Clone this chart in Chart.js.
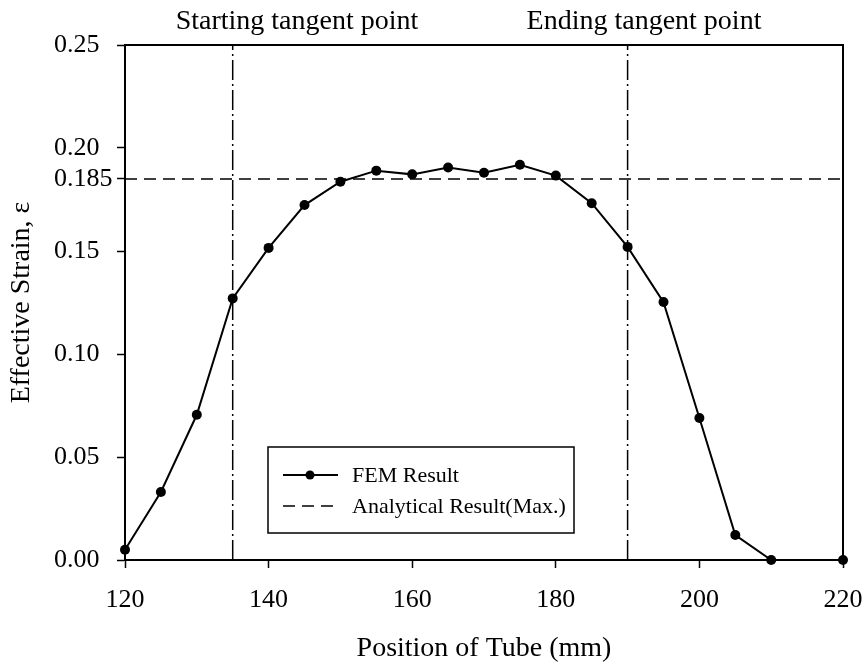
<!DOCTYPE html>
<html>
<head>
<meta charset="utf-8">
<script src="https://cdn.jsdelivr.net/npm/chart.js@4/dist/chart.umd.min.js"></script>
<style>
  body { margin: 0; background: #fff; }
</style>
</head>
<body>
<canvas id="strainChart" width="866" height="664"></canvas>
<script>
// FEM result, position of tube (mm) vs effective strain
var positions = [120, 125, 130, 135, 140, 145, 150, 155, 160, 165, 170, 175, 180, 185, 190, 195, 200, 205, 210, 220];
var strain = [0.005, 0.033, 0.0705, 0.127, 0.1515, 0.1723, 0.1836, 0.189, 0.1872, 0.1905, 0.188, 0.1919, 0.1866, 0.1732, 0.152, 0.1252, 0.0689, 0.0121, 0, 0];

var analyticalMax = 0.185;
var startTangent = 135;
var endTangent = 190;

var xTicks = [120, 140, 160, 180, 200, 220];
var yTicks = [0, 0.05, 0.10, 0.15, 0.20, 0.25];

var legendLabels = ['FEM Result', 'Analytical Result(Max.)'];
var xTitle = 'Position of Tube (mm)';
var yTitle = 'Effective Strain, \u03b5';
var topLabels = ['Starting tangent point', 'Ending tangent point'];

var FONT = '"Liberation Serif", "Times New Roman", serif';

var femData = [];
for (var i = 0; i < positions.length; i++) {
  femData.push({ x: positions[i], y: strain[i] });
}

// frame, titles, legend box
var extras = {
  id: 'extras',
  afterDraw: function (chart) {
    var ctx = chart.ctx;
    var a = chart.chartArea;
    ctx.save();
    ctx.strokeStyle = '#000';
    ctx.lineWidth = 2;
    ctx.strokeRect(a.left, a.top, a.right - a.left, a.bottom - a.top);

    ctx.fillStyle = '#000';
    ctx.font = '28px ' + FONT;
    ctx.textAlign = 'center';
    ctx.textBaseline = 'middle';
    ctx.fillText(topLabels[0], 297, 22);
    ctx.fillText(topLabels[1], 644, 22);
    ctx.fillText(xTitle, (a.left + a.right) / 2, 649);

    ctx.save();
    ctx.translate(22, (a.top + a.bottom) / 2);
    ctx.rotate(-Math.PI / 2);
    ctx.fillText(yTitle, 0, 0);
    ctx.restore();

    // legend
    var lx = 268, ly = 447, lw = 306, lh = 86;
    ctx.fillStyle = '#fff';
    ctx.fillRect(lx, ly, lw, lh);
    ctx.lineWidth = 1.5;
    ctx.strokeRect(lx, ly, lw, lh);

    ctx.strokeStyle = '#000';
    ctx.lineWidth = 2;
    ctx.beginPath();
    ctx.moveTo(283, 475);
    ctx.lineTo(338, 475);
    ctx.stroke();
    ctx.fillStyle = '#000';
    ctx.beginPath();
    ctx.arc(310, 475, 4.5, 0, Math.PI * 2);
    ctx.fill();

    ctx.lineWidth = 1.5;
    ctx.setLineDash([12, 7]);
    ctx.beginPath();
    ctx.moveTo(283, 506);
    ctx.lineTo(338, 506);
    ctx.stroke();
    ctx.setLineDash([]);

    ctx.font = '22px ' + FONT;
    ctx.textAlign = 'left';
    ctx.fillText(legendLabels[0], 352, 476);
    ctx.fillText(legendLabels[1], 352, 507);
    ctx.restore();
  }
};

var ctx = document.getElementById('strainChart');
var myChart = new Chart(ctx, {
  type: 'scatter',
  data: {
    datasets: [
      {
        label: legendLabels[1],
        data: [{ x: 120, y: analyticalMax }, { x: 220, y: analyticalMax }],
        showLine: true,
        borderColor: '#000',
        borderWidth: 1.5,
        borderDash: [12, 7],
        pointRadius: 0
      },
      {
        label: 'start',
        data: [{ x: startTangent, y: 0 }, { x: startTangent, y: 0.25 }],
        showLine: true,
        borderColor: '#000',
        borderWidth: 1.5,
        borderDash: [20, 4, 2, 4],
        pointRadius: 0
      },
      {
        label: 'end',
        data: [{ x: endTangent, y: 0 }, { x: endTangent, y: 0.25 }],
        showLine: true,
        borderColor: '#000',
        borderWidth: 1.5,
        borderDash: [20, 4, 2, 4],
        pointRadius: 0
      },
      {
        label: legendLabels[0],
        data: femData,
        showLine: true,
        borderColor: '#000',
        borderWidth: 2,
        backgroundColor: '#000',
        pointRadius: 5,
        pointBorderWidth: 0,
        clip: false
      }
    ]
  },
  options: {
    responsive: false,
    animation: false,
    events: [],
    layout: { padding: { left: 54, right: 23, top: 45, bottom: 0 } },
    plugins: { legend: { display: false }, tooltip: { enabled: false } },
    scales: {
      x: {
        type: 'linear',
        min: 120,
        max: 220,
        afterBuildTicks: function (scale) {
          scale.ticks = xTicks.map(function (v) { return { value: v }; });
        },
        afterFit: function (scale) {
          scale.height = 104;
          scale.paddingLeft = 0;
          scale.paddingRight = 0;
        },
        grid: { drawOnChartArea: false, tickLength: 8, tickColor: '#000', tickWidth: 1.5 },
        border: { color: '#000', width: 2 },
        ticks: { color: '#000', font: { family: FONT, size: 26 }, padding: 17 }
      },
      y: {
        type: 'linear',
        min: 0,
        max: 0.25,
        afterBuildTicks: function (scale) {
          var t = yTicks.map(function (v) { return { value: v }; });
          t.push({ value: analyticalMax });
          scale.ticks = t;
        },
        afterFit: function (scale) {
          scale.width = 71;
          scale.paddingTop = 0;
          scale.paddingBottom = 0;
        },
        grid: { drawOnChartArea: false, tickLength: 8, tickColor: '#000', tickWidth: 1.5 },
        border: { color: '#000', width: 2 },
        ticks: {
          color: '#000',
          font: { family: FONT, size: 26 },
          crossAlign: 'far',
          callback: function (value) {
            if (Math.abs(value - analyticalMax) < 1e-9) return '0.185';
            return value.toFixed(2);
          }
        }
      }
    }
  },
  plugins: [extras]
});
</script>
</body>
</html>
